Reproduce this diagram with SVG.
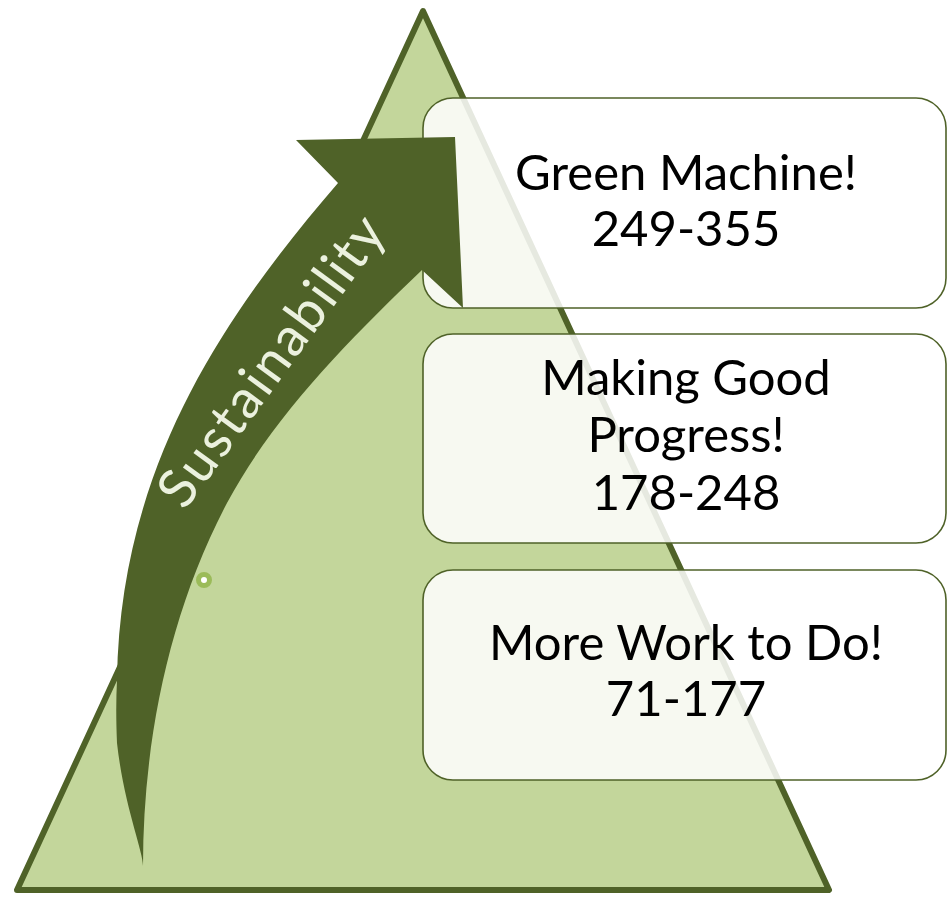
<svg xmlns="http://www.w3.org/2000/svg" width="947" height="898" viewBox="0 0 947 898">
  <style>
    .tri { fill: #c3d69b; stroke: #4f6228; stroke-width: 6; stroke-linejoin: round; }
    .box { fill: #ffffff; fill-opacity: 0.86; stroke: #4f6228; stroke-width: 1.6; }
    .lbl { font-family: Lato, "Liberation Sans", sans-serif; font-size: 49px; fill: #000000; text-anchor: middle; }
    .arrow { fill: #4f6228; }
    .arrowtxt { font-family: Lato, "Liberation Sans", sans-serif; font-size: 54px; fill: #ebf1de; text-anchor: middle; }
  </style>
  <rect x="0" y="0" width="947" height="898" fill="#ffffff"/>
  <g id="pyramid">
    <polygon class="tri" points="423,11 829,890 17,890"/>
  </g>
  <g id="marker-dot">
    <circle cx="204" cy="580" r="5.5" fill="#ffffff" stroke="#9bbb59" stroke-width="5"/>
  </g>
  <g id="box-green">
    <rect class="box" x="423" y="98" width="523" height="210" rx="30" ry="30"/>
    <text class="lbl" x="686" y="190">Green Machine!</text>
    <text class="lbl" x="686" y="246">249-355</text>
  </g>
  <g id="box-progress">
    <rect class="box" x="423" y="334" width="523" height="209" rx="30" ry="30"/>
    <text class="lbl" x="686" y="395">Making Good</text>
    <text class="lbl" x="686" y="452">Progress!</text>
    <text class="lbl" x="686" y="510">178-248</text>
  </g>
  <g id="box-work">
    <rect class="box" x="423" y="570" width="523" height="210" rx="30" ry="30"/>
    <text class="lbl" x="686" y="660">More Work to Do!</text>
    <text class="lbl" x="686" y="716">71-177</text>
  </g>
  <g id="sustainability-arrow">
    <path class="arrow" d="M296,140 L455,137 L463,308 L422,270 C350,339 274,415 227,503 C169,613 143,742 143,866 C143,850 124,806 117,743 C116,720 116,700 117,680 C120,470 220,320 338,183 Z"/>
    <text class="arrowtxt" transform="translate(286,372) rotate(-54)" textLength="345">Sustainability</text>
  </g>
</svg>
